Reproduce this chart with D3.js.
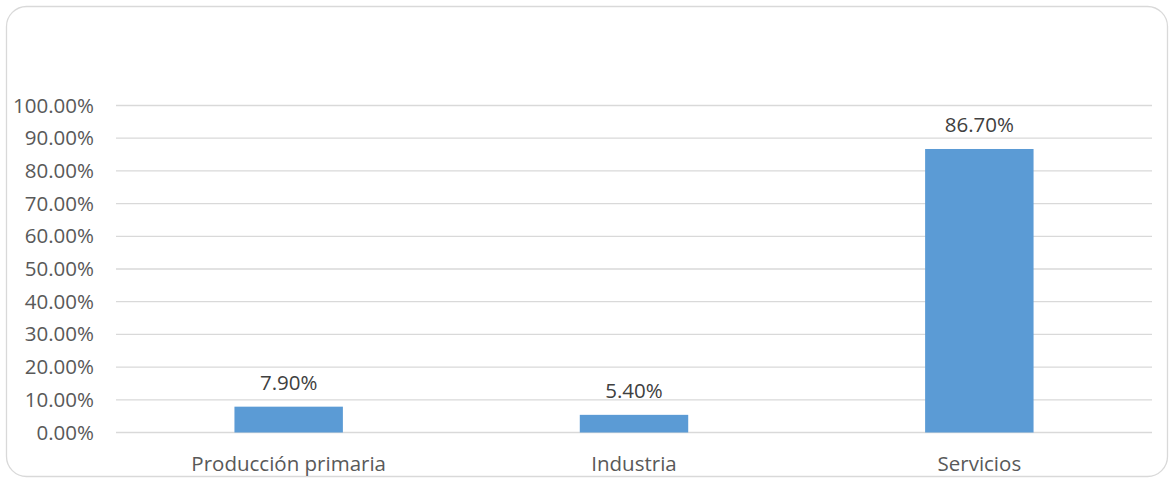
<!DOCTYPE html>
<html><head><meta charset="utf-8">
<script src="https://cdn.jsdelivr.net/npm/d3@7"></script>
<style>body{margin:0;background:#fff}svg{display:block}</style>
</head><body>
<svg id="c" width="1171" height="478"></svg>
<script>
const categories = ["Producción primaria", "Industria", "Servicios"];
const values = [0.079, 0.054, 0.867];
const tickValues = [0, 0.1, 0.2, 0.3, 0.4, 0.5, 0.6, 0.7, 0.8, 0.9, 1.0];

(function () {
const svg = d3.select("#c");
const font = "'Open Sans', 'Noto Sans', sans-serif";
const fs = 20.5;
svg.append("rect").attr("x", 6.5).attr("y", 6.5).attr("width", 1161).attr("height", 470)
  .attr("rx", 20).attr("fill", "#fff").attr("stroke", "#d9d9d9").attr("stroke-width", 1.3);

const pL = 116, pR = 1152, pT = 105.5, pB = 432.5;
const x = d3.scaleBand().domain(categories).range([pL, pR]).paddingInner(0.686).paddingOuter(0.343);
const y = d3.scaleLinear().domain([0, 1]).range([pB, pT]);

const g = svg.append("g");
g.selectAll("line.grid").data(tickValues).join("line")
  .attr("x1", pL).attr("x2", pR).attr("y1", d => y(d)).attr("y2", d => y(d))
  .attr("stroke", "#d9d9d9").attr("stroke-width", 1.3);

const yAxis = d3.axisLeft(y).tickValues(tickValues).tickFormat(d3.format(".2%")).tickSize(0).tickPadding(22);
const ya = g.append("g").attr("transform", `translate(${pL},0)`).call(yAxis);
ya.select(".domain").remove();
ya.selectAll("text").attr("font-family", font).attr("font-size", fs).attr("fill", "#595959");

const xAxis = d3.axisBottom(x).tickSize(0).tickPadding(24);
const xa = g.append("g").attr("transform", `translate(0,${pB})`).call(xAxis);
xa.select(".domain").remove();
xa.selectAll("text").attr("font-family", font).attr("font-size", fs).attr("fill", "#595959");

g.selectAll("rect.bar").data(values).join("rect")
  .attr("x", (d, i) => x(categories[i])).attr("width", x.bandwidth())
  .attr("y", d => y(d)).attr("height", d => pB - y(d)).attr("fill", "#5b9bd5");

g.selectAll("text.lbl").data(values).join("text")
  .attr("x", (d, i) => x(categories[i]) + x.bandwidth() / 2).attr("y", d => y(d) - 17)
  .attr("text-anchor", "middle").attr("font-family", font).attr("font-size", fs).attr("fill", "#404040")
  .text(d => d3.format(".2%")(d));
})();
</script>
</body></html>
